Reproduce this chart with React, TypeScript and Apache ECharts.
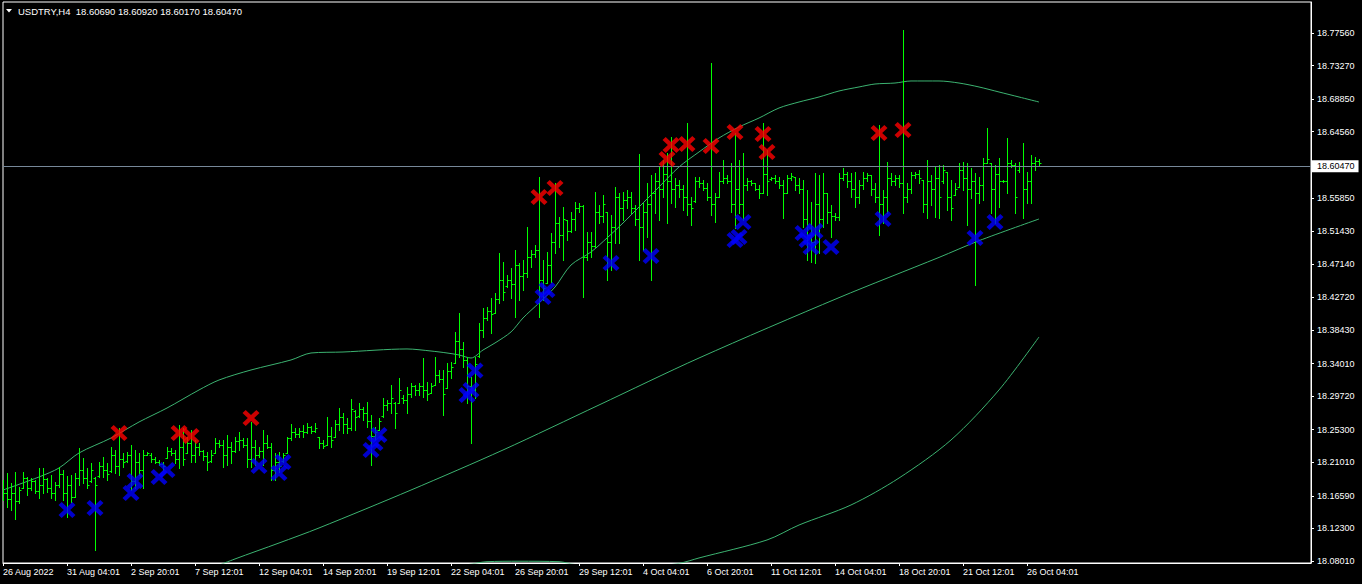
import React, { useEffect, useRef } from 'react';
import * as echarts from 'echarts';

const FONT = '"Liberation Sans", Arial, sans-serif';

const symbolName = 'USDTRY,H4';

const xTickLabels = [
  '26 Aug 2022', '31 Aug 04:01', '2 Sep 20:01', '7 Sep 12:01', '12 Sep 04:01', '14 Sep 20:01',
  '19 Sep 12:01', '22 Sep 04:01', '26 Sep 20:01', '29 Sep 12:01', '4 Oct 04:01', '6 Oct 20:01',
  '11 Oct 12:01', '14 Oct 04:01', '18 Oct 20:01', '21 Oct 12:01', '26 Oct 04:01',
];
const BARS_PER_LABEL = 16;
const SLOT_COUNT = 328;

const priceTicks = [
  18.7756, 18.7327, 18.6885, 18.6456, 18.5585, 18.5143, 18.4714, 18.4272,
  18.3843, 18.3401, 18.2972, 18.253, 18.2101, 18.1659, 18.123, 18.0801,
];
const Y_MIN = 18.07747;
const Y_MAX = 18.81643;
const LAST_PRICE = 18.6047;

// [open, high, low, close] per H4 bar
const bars: number[][] = [
  [18.1780, 18.1868, 18.1605, 18.1700], [18.1700, 18.1965, 18.1517, 18.1620], [18.1620, 18.1824, 18.1473, 18.1700],
  [18.1700, 18.1978, 18.1350, 18.1590], [18.1590, 18.1781, 18.1561, 18.1740], [18.1760, 18.1978, 18.1759, 18.1900],
  [18.1900, 18.1912, 18.1671, 18.1760], [18.1760, 18.1890, 18.1737, 18.1850], [18.1850, 18.1868, 18.1693, 18.1720],
  [18.1720, 18.2022, 18.1627, 18.1800], [18.1800, 18.2022, 18.1693, 18.1880], [18.1880, 18.1890, 18.1715, 18.1760],
  [18.1760, 18.1934, 18.1627, 18.1700], [18.1700, 18.1846, 18.1605, 18.1800], [18.1800, 18.2044, 18.1781, 18.1950],
  [18.1950, 18.2000, 18.1605, 18.1700], [18.1700, 18.1921, 18.1385, 18.1800], [18.1800, 18.1934, 18.1583, 18.1650],
  [18.1650, 18.1956, 18.1649, 18.1900], [18.1900, 18.2285, 18.1802, 18.2000], [18.2000, 18.2154, 18.1824, 18.1900],
  [18.1900, 18.2022, 18.1759, 18.1800], [18.1850, 18.2088, 18.1846, 18.2000], [18.1900, 18.1912, 18.0946, 18.1800],
  [18.1920, 18.2110, 18.1912, 18.2050], [18.2050, 18.2176, 18.1912, 18.2000], [18.2000, 18.2088, 18.1868, 18.1950],
  [18.1990, 18.2307, 18.1978, 18.2200], [18.2200, 18.2263, 18.1956, 18.2050], [18.2050, 18.2549, 18.1934, 18.2150],
  [18.2150, 18.2220, 18.2044, 18.2100], [18.2120, 18.2242, 18.2110, 18.2200], [18.2200, 18.2329, 18.1737, 18.1850],
  [18.1850, 18.2263, 18.1759, 18.2100], [18.2100, 18.2220, 18.1934, 18.2000], [18.2000, 18.2263, 18.1759, 18.2200],
  [18.2200, 18.2242, 18.2198, 18.2220], [18.2200, 18.2220, 18.2110, 18.2150], [18.2150, 18.2176, 18.2088, 18.2100],
  [18.2100, 18.2132, 18.2066, 18.2080], [18.2080, 18.2110, 18.2000, 18.2050], [18.2160, 18.2307, 18.2154, 18.2250],
  [18.2250, 18.2285, 18.2198, 18.2230], [18.2230, 18.2263, 18.2088, 18.2150], [18.2150, 18.2593, 18.2022, 18.2300],
  [18.2300, 18.2549, 18.2066, 18.2150], [18.2230, 18.2439, 18.2220, 18.2350], [18.2350, 18.2527, 18.2110, 18.2200],
  [18.2200, 18.2395, 18.2110, 18.2300], [18.2300, 18.2351, 18.2198, 18.2250], [18.2250, 18.2263, 18.2132, 18.2180],
  [18.2180, 18.2242, 18.2000, 18.2100], [18.2115, 18.2263, 18.2110, 18.2200], [18.2220, 18.2417, 18.2220, 18.2350],
  [18.2350, 18.2395, 18.2307, 18.2330], [18.2330, 18.2395, 18.2044, 18.2200], [18.2200, 18.2461, 18.2066, 18.2300],
  [18.2300, 18.2373, 18.2088, 18.2250], [18.2250, 18.2439, 18.2242, 18.2380], [18.2380, 18.2505, 18.2263, 18.2400],
  [18.2400, 18.2417, 18.2307, 18.2330], [18.2330, 18.2417, 18.2044, 18.2150], [18.2150, 18.2637, 18.2044, 18.2300],
  [18.2300, 18.2395, 18.2066, 18.2200], [18.2200, 18.2307, 18.2176, 18.2250], [18.2250, 18.2527, 18.2066, 18.2350],
  [18.2350, 18.2461, 18.2285, 18.2300], [18.2300, 18.2351, 18.1868, 18.2000], [18.2000, 18.2220, 18.1868, 18.2100],
  [18.2100, 18.2242, 18.1978, 18.2050], [18.2120, 18.2220, 18.2110, 18.2200], [18.2220, 18.2439, 18.2220, 18.2420],
  [18.2420, 18.2606, 18.2395, 18.2500], [18.2500, 18.2549, 18.2439, 18.2480], [18.2480, 18.2549, 18.2439, 18.2520],
  [18.2520, 18.2593, 18.2439, 18.2500], [18.2500, 18.2615, 18.2483, 18.2560], [18.2560, 18.2580, 18.2483, 18.2520],
  [18.2520, 18.2615, 18.2505, 18.2550], [18.2430, 18.2439, 18.2286, 18.2350], [18.2350, 18.2395, 18.2286, 18.2320],
  [18.2330, 18.2694, 18.2329, 18.2450], [18.2450, 18.2571, 18.2307, 18.2400], [18.2440, 18.2659, 18.2439, 18.2600],
  [18.2600, 18.2812, 18.2527, 18.2700], [18.2700, 18.2747, 18.2483, 18.2600], [18.2600, 18.2681, 18.2483, 18.2550],
  [18.2550, 18.2931, 18.2527, 18.2800], [18.2780, 18.2790, 18.2527, 18.2700], [18.2710, 18.2878, 18.2703, 18.2800],
  [18.2800, 18.2834, 18.2659, 18.2750], [18.2750, 18.2900, 18.2571, 18.2650], [18.2650, 18.2725, 18.2066, 18.2450],
  [18.2450, 18.2571, 18.2395, 18.2500], [18.2530, 18.2681, 18.2527, 18.2650], [18.2710, 18.2944, 18.2703, 18.2850],
  [18.2850, 18.2922, 18.2790, 18.2880], [18.2880, 18.3120, 18.2747, 18.2950], [18.2880, 18.2900, 18.2549, 18.2750],
  [18.2880, 18.3207, 18.2878, 18.3050], [18.2950, 18.2988, 18.2878, 18.2920], [18.2920, 18.3098, 18.2747, 18.3000],
  [18.3000, 18.3142, 18.2966, 18.3100], [18.3100, 18.3120, 18.2988, 18.3050], [18.3050, 18.3142, 18.2988, 18.3100],
  [18.3100, 18.3471, 18.2966, 18.3050], [18.3050, 18.3164, 18.2922, 18.3000], [18.3020, 18.3142, 18.3010, 18.3100],
  [18.3120, 18.3493, 18.3120, 18.3250], [18.3250, 18.3317, 18.3164, 18.3200], [18.3200, 18.3317, 18.2725, 18.3000],
  [18.3080, 18.3405, 18.3076, 18.3300], [18.3300, 18.3427, 18.3207, 18.3350], [18.3410, 18.3822, 18.3405, 18.3700],
  [18.3700, 18.4064, 18.3493, 18.3600], [18.3600, 18.3691, 18.3361, 18.3450], [18.3450, 18.3493, 18.2878, 18.3100],
  [18.3100, 18.3229, 18.2351, 18.3050], [18.3050, 18.3493, 18.2944, 18.3400], [18.3500, 18.3932, 18.3493, 18.3850],
  [18.3850, 18.4130, 18.3757, 18.4000], [18.4000, 18.4152, 18.3976, 18.4100], [18.4100, 18.4261, 18.3800, 18.4050],
  [18.4070, 18.4327, 18.4064, 18.4250], [18.4250, 18.4854, 18.4196, 18.4500], [18.4500, 18.4744, 18.4239, 18.4350],
  [18.4420, 18.4569, 18.4415, 18.4500], [18.4500, 18.4657, 18.4261, 18.4450], [18.4450, 18.4898, 18.4020, 18.4700],
  [18.4700, 18.4722, 18.4239, 18.4550], [18.4550, 18.4766, 18.4371, 18.4600], [18.4600, 18.5205, 18.4547, 18.4800],
  [18.4800, 18.4898, 18.4678, 18.4850], [18.4850, 18.4964, 18.4810, 18.4900], [18.4900, 18.5864, 18.4020, 18.4500],
  [18.4500, 18.4766, 18.4239, 18.4400], [18.4460, 18.4876, 18.4459, 18.4700], [18.4700, 18.5117, 18.4481, 18.5000],
  [18.5000, 18.5776, 18.4854, 18.5250], [18.5250, 18.5337, 18.4942, 18.5100], [18.5100, 18.5469, 18.4766, 18.5300],
  [18.5290, 18.5293, 18.5030, 18.5150], [18.5150, 18.5403, 18.5139, 18.5300], [18.5300, 18.5535, 18.5161, 18.5450],
  [18.5450, 18.5513, 18.5403, 18.5480], [18.5480, 18.5491, 18.4283, 18.4800], [18.4800, 18.5139, 18.4766, 18.5000],
  [18.5000, 18.5139, 18.4810, 18.4950], [18.4950, 18.5666, 18.4942, 18.5400], [18.5400, 18.5491, 18.5249, 18.5350],
  [18.5350, 18.5622, 18.5271, 18.5500], [18.5400, 18.5403, 18.4503, 18.5000], [18.5000, 18.5359, 18.4635, 18.5200],
  [18.5200, 18.5732, 18.4986, 18.5600], [18.5600, 18.5644, 18.4986, 18.5450], [18.5450, 18.5666, 18.5293, 18.5550],
  [18.5550, 18.5688, 18.5447, 18.5600], [18.5600, 18.5666, 18.5381, 18.5450], [18.5450, 18.5491, 18.5227, 18.5300],
  [18.5300, 18.6162, 18.4766, 18.5200], [18.5200, 18.5520, 18.4900, 18.5400], [18.5400, 18.5776, 18.5074, 18.5500],
  [18.5500, 18.5886, 18.4503, 18.5650], [18.5650, 18.5908, 18.5381, 18.5800], [18.5800, 18.5995, 18.5293, 18.5700],
  [18.5700, 18.6083, 18.5600, 18.5900], [18.5900, 18.6171, 18.5249, 18.5800], [18.5800, 18.6390, 18.5512, 18.5700],
  [18.5700, 18.5842, 18.5469, 18.5750], [18.5750, 18.5820, 18.5600, 18.5700], [18.5700, 18.5754, 18.5425, 18.5600],
  [18.5600, 18.6566, 18.5359, 18.5500], [18.5500, 18.5600, 18.5227, 18.5450], [18.5540, 18.5864, 18.5534, 18.5800],
  [18.5800, 18.5864, 18.5732, 18.5780], [18.5780, 18.5820, 18.5688, 18.5720], [18.5720, 18.5776, 18.5556, 18.5600],
  [18.5600, 18.7356, 18.5359, 18.5500], [18.5500, 18.5644, 18.5271, 18.5600], [18.5600, 18.5929, 18.5600, 18.5800],
  [18.5800, 18.6083, 18.5776, 18.5850], [18.5850, 18.5886, 18.5776, 18.5800], [18.5800, 18.6039, 18.5403, 18.5500],
  [18.5500, 18.6434, 18.5183, 18.5700], [18.5700, 18.6083, 18.5381, 18.5500], [18.5500, 18.6171, 18.5293, 18.5750],
  [18.5750, 18.5842, 18.5688, 18.5800], [18.5800, 18.5820, 18.5754, 18.5780], [18.5776, 18.5776, 18.5688, 18.5700],
  [18.5700, 18.5754, 18.5578, 18.5650], [18.5650, 18.6566, 18.5644, 18.5900], [18.5900, 18.6215, 18.5622, 18.5800],
  [18.5830, 18.5864, 18.5820, 18.5850], [18.5850, 18.5886, 18.5776, 18.5800], [18.5800, 18.5864, 18.5710, 18.5750],
  [18.5750, 18.5820, 18.5315, 18.5650], [18.5650, 18.5886, 18.5644, 18.5850], [18.5850, 18.5908, 18.5820, 18.5870],
  [18.5864, 18.5864, 18.5688, 18.5750], [18.5750, 18.5842, 18.5644, 18.5700], [18.5700, 18.5820, 18.5205, 18.5300],
  [18.5300, 18.5688, 18.4766, 18.5100], [18.5100, 18.5534, 18.4744, 18.5000], [18.5000, 18.5908, 18.4722, 18.5500],
  [18.5500, 18.5886, 18.4854, 18.5300], [18.5300, 18.5908, 18.5205, 18.5650], [18.5644, 18.5644, 18.5249, 18.5400],
  [18.5400, 18.5491, 18.5073, 18.5350], [18.5350, 18.5381, 18.5293, 18.5330], [18.5330, 18.5908, 18.5293, 18.5850],
  [18.5850, 18.5973, 18.5820, 18.5900], [18.5900, 18.5929, 18.5732, 18.5800], [18.5800, 18.5908, 18.5600, 18.5700],
  [18.5700, 18.5929, 18.5469, 18.5600], [18.5600, 18.5820, 18.5512, 18.5750], [18.5750, 18.5929, 18.5700, 18.5850],
  [18.5850, 18.5908, 18.5800, 18.5880], [18.5880, 18.5886, 18.5622, 18.5700], [18.5700, 18.5776, 18.5534, 18.5600],
  [18.5600, 18.6544, 18.5095, 18.5500], [18.5500, 18.5688, 18.5249, 18.5600], [18.5600, 18.6061, 18.5381, 18.5850],
  [18.5850, 18.5908, 18.5754, 18.5800], [18.5800, 18.5886, 18.5754, 18.5850], [18.5850, 18.5886, 18.5732, 18.5780],
  [18.5780, 18.7795, 18.5381, 18.5600], [18.5600, 18.5776, 18.5534, 18.5700], [18.5700, 18.5929, 18.5644, 18.5880],
  [18.5880, 18.5929, 18.5842, 18.5900], [18.5900, 18.5951, 18.5776, 18.5850], [18.5820, 18.5820, 18.5403, 18.5500],
  [18.5500, 18.6083, 18.5315, 18.5800], [18.5800, 18.5886, 18.5491, 18.5700], [18.5700, 18.5995, 18.5337, 18.5850],
  [18.5850, 18.6017, 18.5315, 18.5600], [18.5800, 18.6017, 18.5776, 18.5950], [18.5929, 18.5929, 18.5425, 18.5600],
  [18.5600, 18.5820, 18.5293, 18.5450], [18.5622, 18.5776, 18.5622, 18.5700], [18.5732, 18.6039, 18.5732, 18.5950],
  [18.5950, 18.6061, 18.5688, 18.5850], [18.5850, 18.6039, 18.5227, 18.5700], [18.5700, 18.5973, 18.5578, 18.5800],
  [18.5800, 18.5908, 18.4437, 18.5650], [18.5650, 18.5864, 18.5512, 18.5750], [18.5750, 18.6105, 18.5556, 18.6050],
  [18.6050, 18.6500, 18.6039, 18.6100], [18.6039, 18.6039, 18.5381, 18.5700], [18.5700, 18.6017, 18.5249, 18.5900],
  [18.5900, 18.6105, 18.5469, 18.5800], [18.5800, 18.5820, 18.5798, 18.5810], [18.5810, 18.6368, 18.5644, 18.6050],
  [18.6050, 18.6083, 18.5995, 18.6020], [18.6020, 18.6039, 18.5381, 18.5600], [18.5950, 18.6061, 18.5929, 18.6000],
  [18.6000, 18.6303, 18.5315, 18.5700], [18.5700, 18.5929, 18.5512, 18.5800], [18.5800, 18.6149, 18.5512, 18.6050],
  [18.6050, 18.6127, 18.5951, 18.6069], [18.6069, 18.6092, 18.6017, 18.6047],
];

// [bar index, price]
const sellMarks = [
  [29, 18.2487], [44, 18.2487], [47, 18.2448], [62, 18.2685], [134, 18.5596], [138, 18.5714],
  [166, 18.6096], [167, 18.6281], [171, 18.6294], [177, 18.6268], [183, 18.6452], [190, 18.6426],
  [191, 18.6189], [219, 18.6439], [225, 18.6478],
];
const buyMarks = [
  [16, 18.1473], [23, 18.1499], [32, 18.1697], [33, 18.1855], [39, 18.1908], [41, 18.2000],
  [64, 18.2053], [69, 18.1960], [70, 18.2105], [92, 18.2263], [93, 18.2355], [94, 18.2461],
  [116, 18.2988], [117, 18.3054], [118, 18.3309], [135, 18.4279], [136, 18.4371], [152, 18.4726],
  [162, 18.4819], [183, 18.5029], [184, 18.5069], [185, 18.5266], [200, 18.5122], [201, 18.5029],
  [202, 18.4937], [203, 18.5148], [207, 18.4937], [220, 18.5306], [243, 18.5056], [248, 18.5266],
];

// [bar index, price]
const upperBand = [
  [0, 18.1736], [9, 18.1908], [14, 18.2026], [19, 18.2224], [27, 18.2421], [34, 18.2632], [41, 18.2816],
  [49, 18.3054], [54, 18.3185], [62, 18.3317], [72, 18.3449], [77, 18.3541], [85, 18.3554], [101, 18.3594],
  [107, 18.3567], [111, 18.3541], [114, 18.3515], [117, 18.3475], [120, 18.3580], [123, 18.3673],
  [127, 18.3818], [130, 18.4002], [134, 18.4200], [138, 18.4410], [142, 18.4700], [147, 18.4871],
  [151, 18.5056], [155, 18.5253], [159, 18.5464], [164, 18.5728], [169, 18.5991], [174, 18.6189],
  [179, 18.6373], [184, 18.6518], [189, 18.6636], [194, 18.6768], [199, 18.6847], [204, 18.6913],
  [209, 18.6992], [214, 18.7045], [218, 18.7084], [223, 18.7097], [227, 18.7124], [234, 18.7124],
  [239, 18.7097], [244, 18.7045], [249, 18.6979], [254, 18.6913], [259, 18.6847],
];
const middleBand = [
  [49, 18.0643], [58, 18.0828], [69, 18.1038], [79, 18.1236], [102, 18.1736], [125, 18.2263],
  [149, 18.2856], [174, 18.3475], [209, 18.4270], [234, 18.4800], [244, 18.5020], [259, 18.5306],
];
const lowerBand = [
  [100, 18.0600], [117, 18.0760], [121, 18.0792], [129, 18.0798], [139, 18.0792], [143, 18.0755],
  [157, 18.0700], [169, 18.0770], [174, 18.0841], [191, 18.1078], [199, 18.1275], [212, 18.1539],
  [224, 18.1894], [237, 18.2395], [249, 18.3054], [259, 18.3752],
];

const X_MARK =
  'path://M0,3 L3,0 L8,5 L13,0 L16,3 L11,8 L16,13 L13,16 L8,11 L3,16 L0,13 L5,8 Z';

export default function App() {
  const ref = useRef<HTMLDivElement>(null);

  useEffect(() => {
    if (!ref.current) return;
    const chart = echarts.init(ref.current, undefined, { renderer: 'svg' });
    const categories = Array.from({ length: SLOT_COUNT }, (_, i) => String(i));
    const showTick = (index: number) =>
      index % BARS_PER_LABEL === 0 && index / BARS_PER_LABEL < xTickLabels.length;
    const last = bars[bars.length - 1];
    const headerText = `${symbolName}  ${last.map((v) => v.toFixed(5)).join(' ')}`;

    chart.setOption({
      animation: false,
      backgroundColor: '#000000',
      grid: {
        left: 2,
        top: 2,
        right: 51,
        bottom: 21,
        show: true,
        borderColor: '#ffffff',
        borderWidth: 1,
        containLabel: false,
      },
      xAxis: {
        type: 'category',
        data: categories,
        boundaryGap: false,
        axisLine: { show: true, lineStyle: { color: '#ffffff', width: 1 } },
        axisTick: { show: true, length: 3, interval: showTick, lineStyle: { color: '#ffffff' } },
        axisLabel: {
          interval: showTick,
          formatter: (v: string) => xTickLabels[Number(v) / BARS_PER_LABEL] ?? '',
          color: '#ffffff',
          align: 'left',
          fontSize: 9,
          fontFamily: FONT,
          margin: 4,
        },
        splitLine: { show: false },
      },
      yAxis: {
        type: 'value',
        position: 'right',
        min: Y_MIN,
        max: Y_MAX,
        axisLine: { show: true, lineStyle: { color: '#ffffff', width: 1 } },
        axisTick: { show: true, length: 3, customValues: priceTicks, lineStyle: { color: '#ffffff' } },
        axisLabel: {
          customValues: priceTicks,
          formatter: (v: number) => v.toFixed(5),
          color: '#ffffff',
          fontSize: 9,
          fontFamily: FONT,
          margin: 6,
        },
        splitLine: { show: false },
      },
      graphic: [
        { type: 'polygon', shape: { points: [[6, 9], [12, 9], [9, 12.5]] }, style: { fill: '#ffffff' } },
        {
          type: 'text',
          x: 18,
          y: 11,
          style: {
            text: headerText,
            fill: '#ffffff',
            fontSize: 9.5,
            fontFamily: FONT,
            verticalAlign: 'middle',
          },
        },
      ],
      series: [
        {
          type: 'line', data: upperBand, symbol: 'none', smooth: 0.3, silent: true, clip: true, z: 1,
          lineStyle: { color: '#3cb371', width: 1 },
        },
        {
          type: 'line', data: middleBand, symbol: 'none', smooth: 0.3, silent: true, clip: true, z: 1,
          lineStyle: { color: '#3cb371', width: 1 },
        },
        {
          type: 'line', data: lowerBand, symbol: 'none', smooth: 0.3, silent: true, clip: true, z: 1,
          lineStyle: { color: '#3cb371', width: 1 },
        },
        {
          type: 'custom',
          z: 2,
          clip: true,
          silent: true,
          data: bars.map((b, i) => [i, b[0], b[1], b[2], b[3]]),
          encode: { x: 0, y: [1, 2, 3, 4] },
          renderItem: (_params: any, api: any) => {
            const i = api.value(0);
            const po = api.coord([i, api.value(1)]);
            const ph = api.coord([i, api.value(2)]);
            const pl = api.coord([i, api.value(3)]);
            const pc = api.coord([i, api.value(4)]);
            const x = Math.round(ph[0]) + 0.5;
            const st = { stroke: '#00ff00', lineWidth: 1 };
            const yo = Math.round(po[1]) + 0.5;
            const yc = Math.round(pc[1]) + 0.5;
            return {
              type: 'group',
              children: [
                { type: 'line', shape: { x1: x, y1: Math.round(ph[1]), x2: x, y2: Math.round(pl[1]) + 1 }, style: st },
                { type: 'line', shape: { x1: x - 2, y1: yo, x2: x, y2: yo }, style: st },
                { type: 'line', shape: { x1: x, y1: yc, x2: x + 2, y2: yc }, style: st },
              ],
            };
          },
          markLine: {
            silent: true,
            symbol: ['none', 'none'],
            lineStyle: { color: '#778899', width: 1, type: 'solid' },
            label: {
              show: true,
              position: 'end',
              formatter: () => LAST_PRICE.toFixed(5),
              color: '#000000',
              backgroundColor: '#ffffff',
              padding: [2, 4, 1, 5],
              distance: 1,
              fontSize: 9,
              fontFamily: FONT,
            },
            data: [{ yAxis: LAST_PRICE }],
          },
        },
        {
          type: 'scatter',
          data: sellMarks,
          symbol: X_MARK,
          symbolSize: [17, 16],
          itemStyle: { color: '#ff0000' },
          silent: true,
          z: 5,
        },
        {
          type: 'scatter',
          data: buyMarks,
          symbol: X_MARK,
          symbolSize: [17, 16],
          itemStyle: { color: '#0000ff' },
          silent: true,
          z: 5,
        },
      ],
    });

    return () => chart.dispose();
  }, []);

  return (
    <div
      ref={ref}
      style={{ position: 'fixed', left: 0, top: 0, width: 1362, height: 584, background: '#000' }}
    />
  );
}
